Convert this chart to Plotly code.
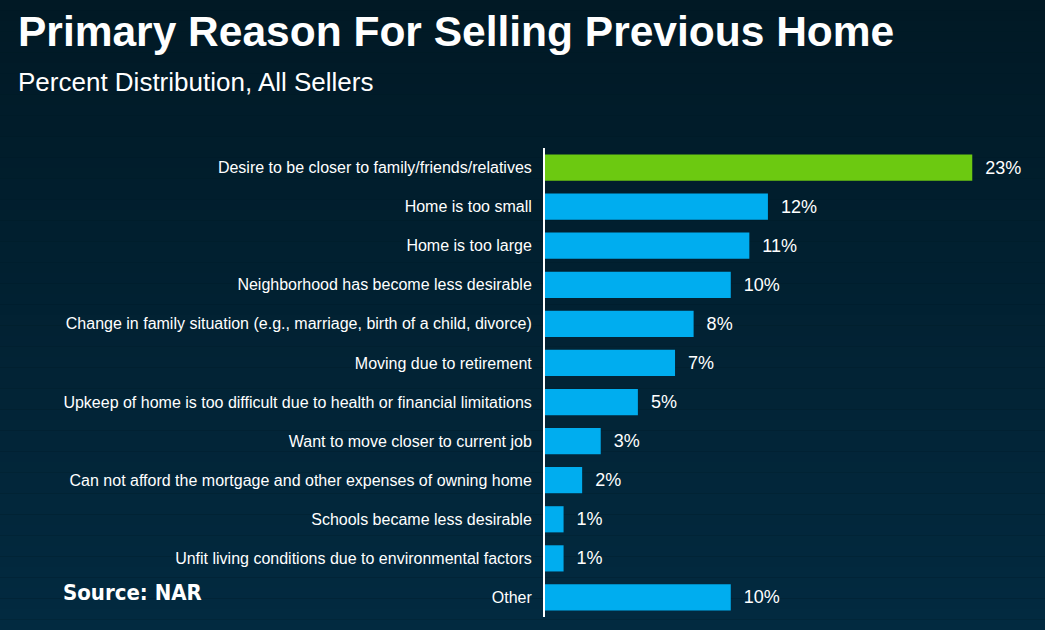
import plotly.graph_objects as go

# Data ################################
reasons = [
    "Desire to be closer to family/friends/relatives",
    "Home is too small",
    "Home is too large",
    "Neighborhood has become less desirable",
    "Change in family situation (e.g., marriage, birth of a child, divorce)",
    "Moving due to retirement",
    "Upkeep of home is too difficult due to health or financial limitations",
    "Want to move closer to current job",
    "Can not afford the mortgage and other expenses of owning home",
    "Schools became less desirable",
    "Unfit living conditions due to environmental factors",
    "Other",
]
shares = [23, 12, 11, 10, 8, 7, 5, 3, 2, 1, 1, 10]

# highlight the top reason in green
colors = ["#6cc911"] + ["#00adef"] * (len(reasons) - 1)

fig = go.Figure(go.Bar(
    y=reasons,
    x=shares,
    orientation="h",
    marker=dict(color=colors, line_width=0),
    width=0.67,
    text=["\u00a0\u00a0%d%%" % v for v in shares],
    textposition="outside",
    textfont=dict(color="white", size=18, family="Liberation Sans, Arial"),
    cliponaxis=False,
    hoverinfo="skip",
))

# background gradient built from thin bands
top = (1, 25, 37)
bottom = (2, 42, 64)
n_bands = 60
shapes = []
for i in range(n_bands):
    t = i / (n_bands - 1)
    c = tuple(round(top[k] + (bottom[k] - top[k]) * t) for k in range(3))
    shapes.append(dict(
        type="rect", xref="paper", yref="paper", layer="below",
        x0=-2, x1=2,
        y0=1 + 148 / 469 - (i + 1) / n_bands * 630 / 469,
        y1=1 + 148 / 469 - i / n_bands * 630 / 469,
        line_width=0, fillcolor="rgb(%d,%d,%d)" % c,
    ))

fig.update_layout(
    width=1045, height=630,
    margin=dict(l=545, r=17, t=148, b=13),
    paper_bgcolor="#011a25",
    plot_bgcolor="rgba(0,0,0,0)",
    showlegend=False,
    font=dict(family="Liberation Sans, Arial", color="white"),
    shapes=shapes,
)

fig.update_xaxes(range=[0, 26], visible=False, fixedrange=True)
fig.update_yaxes(
    categoryorder="array", categoryarray=reasons[::-1],
    showline=True, linecolor="white", linewidth=2,
    showgrid=False, ticks="outside", ticklen=8, tickcolor="rgba(0,0,0,0)",
    tickfont=dict(size=16, color="white"),
    range=[-0.5, len(reasons) - 0.5],
    fixedrange=True,
)

# paper-level titles
fig.add_annotation(
    text="<b>Primary Reason For Selling Previous Home</b>",
    xref="paper", yref="paper", x=(16 - 545) / 483, y=1 + 116 / 469,
    xanchor="left", yanchor="middle", showarrow=False,
    font=dict(size=42.5, color="white", family="Liberation Sans, Arial"),
)
fig.add_annotation(
    text="Percent Distribution, All Sellers",
    xref="paper", yref="paper", x=(16 - 545) / 483, y=1 + 66 / 469,
    xanchor="left", yanchor="middle", showarrow=False,
    font=dict(size=26, color="white", family="Liberation Sans, Arial"),
)
fig.add_annotation(
    text="<b>Source: NAR</b>",
    xref="paper", yref="paper", x=(61 - 545) / 483, y=(617 - 592) / 469,
    xanchor="left", yanchor="middle", showarrow=False,
    font=dict(size=22, color="white", family="DejaVu Sans Condensed, Liberation Sans Narrow, Liberation Sans"),
)

fig.write_html(
    "out.html",
    config={"displayModeBar": False},
    post_script="document.body.style.margin='0';document.body.style.background='#022a40';",
)
